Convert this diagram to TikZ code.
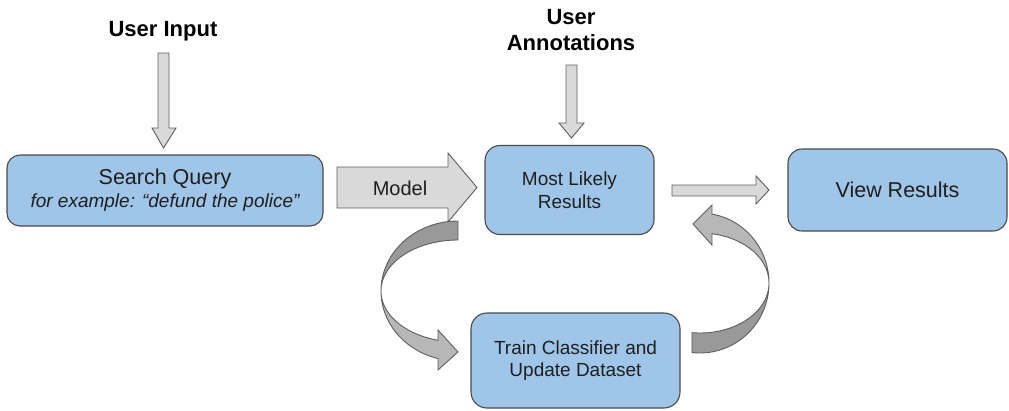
\documentclass[tikz,border=0pt]{standalone}
\usepackage{fontspec}
\setmainfont{Liberation Sans}
\definecolor{boxblue}{HTML}{9FC5E8}
\definecolor{boxline}{HTML}{4A4A4A}
\definecolor{arrline}{HTML}{5F5F5F}
\definecolor{arrfill}{HTML}{D9D9D9}
\definecolor{curvdark}{HTML}{999999}
\definecolor{curvlight}{HTML}{B7B7B7}
\definecolor{txt}{HTML}{1F1F1F}
\begin{document}
\begin{tikzpicture}[x=1pt,y=-1pt,
  box/.style={draw=boxline, line width=1.1pt, fill=boxblue, rounded corners=#1,
              align=center, text=txt, inner sep=0pt},
  box/.default=14pt,
  blockarrow/.style={draw=arrline, fill=arrfill, line width=0.9pt, line join=miter},
  darkband/.style={draw=arrline, fill=curvdark, line width=0.9pt, line join=round},
  lightband/.style={draw=arrline, fill=curvlight, line width=0.9pt, line join=miter},
  bigtext/.style={font=\fontsize{21.5}{26}\selectfont},
  midtext/.style={font=\fontsize{19}{22.5}\selectfont},
  headtext/.style={font=\bfseries\fontsize{22}{26}\selectfont, text=black, align=center, inner sep=0pt}
]
\useasboundingbox (0,0) rectangle (1009,410);

% boxes
\node[box=13pt, minimum width=316pt, minimum height=71pt] (search) at (165,190.5)
  {{\fontsize{21.5}{24}\selectfont Search Query}\\[3.5pt]
   {\fontsize{19}{22}\selectfont\itshape for example: “defund the police”}};
\node[box=15pt, minimum width=169pt, minimum height=89pt, midtext] (likely) at (569.5,190)
  {Most Likely\\Results};
\node[box=14pt, minimum width=219pt, minimum height=82pt, bigtext] (view) at (897.5,190)
  {View Results};
\node[box=16pt, minimum width=209pt, minimum height=95pt, midtext] (train) at (575.5,360.5)
  {Train Classifier and\\Update Dataset};

% headings
\node[headtext] (uinput) at (163,31) {User Input};
\node[headtext] (uannot) at (571,30) {User\\Annotations};

% straight block arrows
\draw[blockarrow] (158,53) -- (169,53) -- (169,128) -- (176,128) -- (163.5,148)
  -- (152,128) -- (158,128) -- cycle;
\draw[blockarrow] (566,65) -- (577,65) -- (577,123) -- (584,123) -- (571.5,138)
  -- (559,123) -- (566,123) -- cycle;
\draw[blockarrow] (337,167) -- (448,167) -- (448,153) -- (477,187.5) -- (448,222)
  -- (448,208) -- (337,208) -- cycle;
\node[font=\fontsize{20}{24}\selectfont, text=txt] (model) at (400,188) {Model};
\draw[blockarrow] (672,185) -- (756,185) -- (756,176) -- (769,190) -- (756,204)
  -- (756,196) -- (672,196) -- cycle;

% left curved arrow (Most Likely -> Train)
\draw[darkband] plot[domain=90:180,samples=60,variable=\t]({458+77*cos(\t)},{291-70*sin(\t)})
  -- plot[domain=180:90,samples=60,variable=\t]({458+77*cos(\t)},{291-51*sin(\t)}) -- cycle;
\draw[lightband] plot[domain=180:254.94,samples=60,variable=\t]({458+77*cos(\t)},{291-51*sin(\t)})
  -- (438,330) -- (458,352) -- (438,370)
  -- plot[domain=254.94:180,samples=60,variable=\t]({458+77*cos(\t)},{291-70*sin(\t)}) -- cycle;

% right curved arrow (Train -> Most Likely)
\draw[darkband] plot[domain=263.3:360,samples=60,variable=\t]({700+69*cos(\t)},{283-70*sin(\t)})
  -- plot[domain=360:263.3,samples=60,variable=\t]({700+69*cos(\t)},{283-50*sin(\t)}) -- cycle;
\draw[lightband] plot[domain=0:80,samples=60,variable=\t]({700+69*cos(\t)},{283-70*sin(\t)})
  -- (712,205) -- (693,224) -- (712,245)
  -- plot[domain=80:0,samples=60,variable=\t]({700+69*cos(\t)},{283-50*sin(\t)}) -- cycle;
\end{tikzpicture}
\end{document}
